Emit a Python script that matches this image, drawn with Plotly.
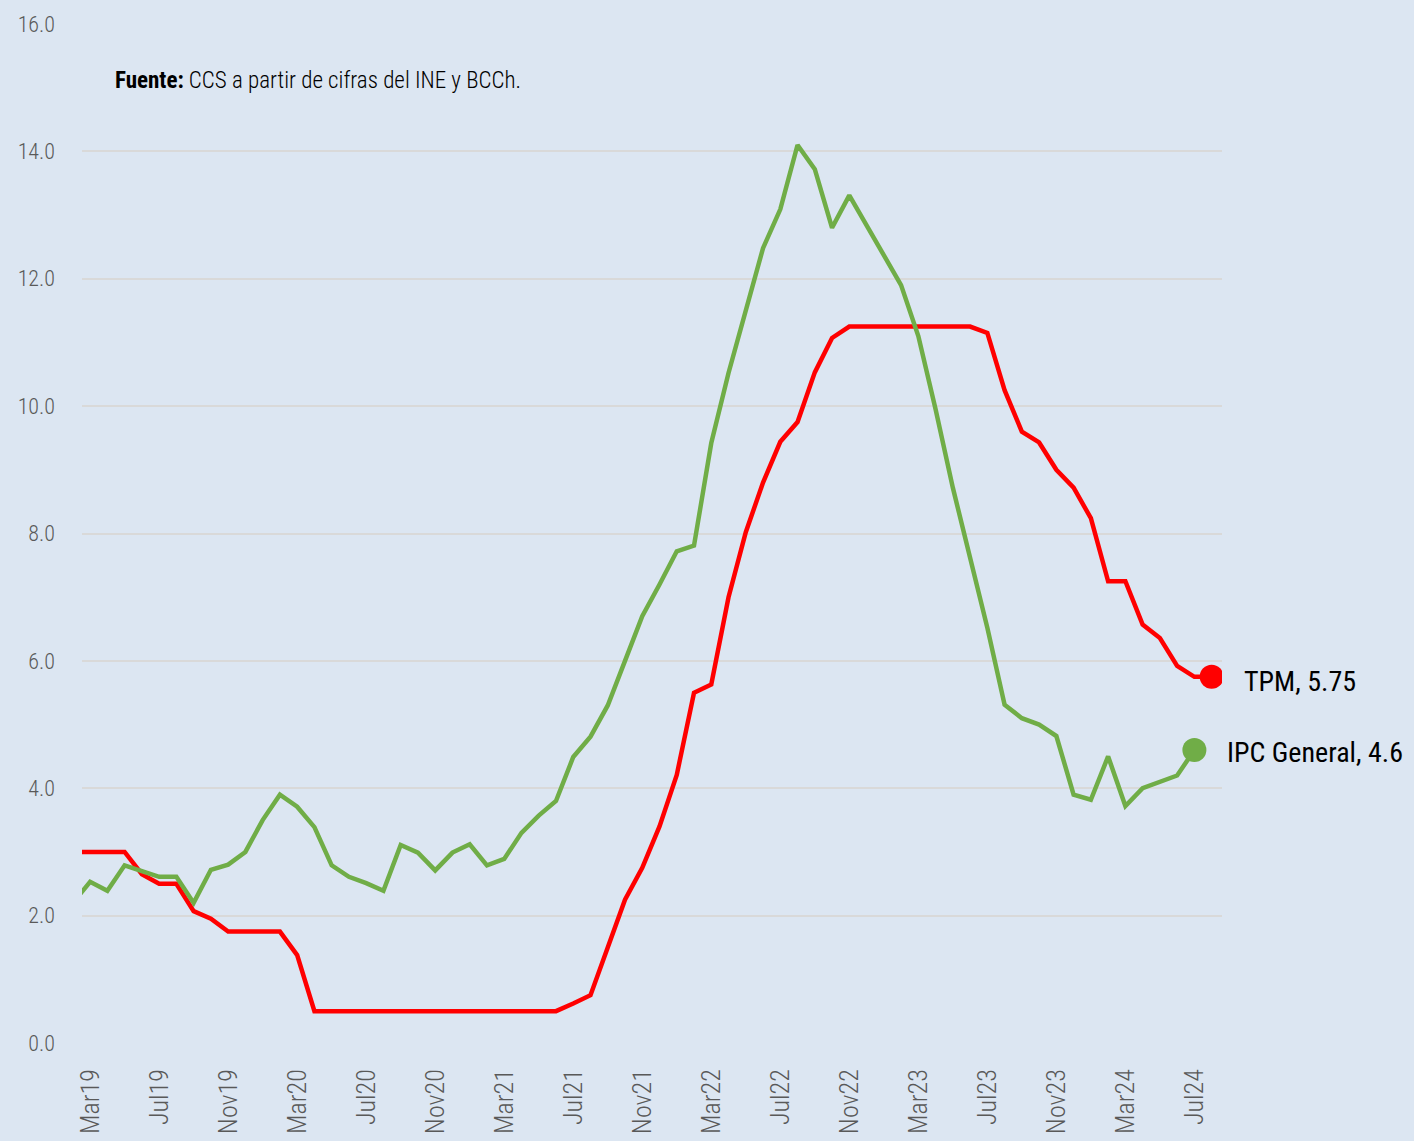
import plotly.graph_objects as go

# meses Feb19 .. Ago24 (el primer mes queda recortado a la izquierda, como en el original)
meses_abr = ["Jan", "Feb", "Mar", "Apr", "May", "Jun", "Jul", "Aug", "Sep", "Oct", "Nov", "Dec"]
meses_tick = ["Mar", "Jul", "Nov"]

fechas = []
for anio in range(19, 25):
    for m in range(12):
        if (anio == 19 and m < 1) or (anio == 24 and m > 7):
            continue
        fechas.append(meses_abr[m] + str(anio))

# Tasa de politica monetaria (promedio mensual), Feb19 .. Ago24
tpm = [3.0, 3.0, 3.0, 3.0, 2.65, 2.5, 2.5, 2.07, 1.95, 1.75, 1.75,
       1.75, 1.75, 1.38, 0.5, 0.5, 0.5, 0.5, 0.5, 0.5, 0.5, 0.5, 0.5,
       0.5, 0.5, 0.5, 0.5, 0.5, 0.5, 0.62, 0.75, 1.5, 2.25, 2.75, 3.4,
       4.21, 5.5, 5.63, 7.0, 8.02, 8.8, 9.44, 9.75, 10.53, 11.07, 11.25, 11.25,
       11.25, 11.25, 11.25, 11.25, 11.25, 11.25, 11.15, 10.25, 9.6, 9.43, 9.0, 8.72,
       8.24, 7.25, 7.25, 6.57, 6.36, 5.92, 5.75, 5.75]

# IPC general, variacion 12 meses, Feb19 .. Jul24
ipc = [2.2, 2.53, 2.39, 2.79, 2.7, 2.61, 2.61, 2.2, 2.72, 2.8, 3.0,
       3.5, 3.9, 3.71, 3.39, 2.79, 2.61, 2.51, 2.39, 3.11, 2.99, 2.71, 2.99,
       3.12, 2.79, 2.89, 3.3, 3.57, 3.8, 4.49, 4.81, 5.3, 6.0, 6.7, 7.2,
       7.72, 7.81, 9.42, 10.52, 11.5, 12.48, 13.09, 14.1, 13.72, 12.8, 13.31, 12.85,
       12.38, 11.9, 11.1, 9.95, 8.72, 7.59, 6.52, 5.31, 5.1, 5.0, 4.82, 3.9,
       3.82, 4.5, 3.72, 4.0, 4.1, 4.2, 4.6]

ticks_x = [f for f in fechas if f[:3] in meses_tick]

ROJO = "#FF0000"
VERDE = "#70AD47"
FUENTE = "Roboto Condensed, Open Sans Condensed, Liberation Sans Narrow, Roboto, sans-serif"

fig = go.Figure()
fig.add_trace(go.Scatter(x=fechas[:len(tpm)], y=tpm, mode="lines",
                         line=dict(color=ROJO, width=4.5), showlegend=False))
fig.add_trace(go.Scatter(x=fechas[:len(ipc)], y=ipc, mode="lines",
                         line=dict(color=VERDE, width=4.5), showlegend=False))
fig.add_trace(go.Scatter(x=[fechas[len(tpm) - 1]], y=[tpm[-1]], mode="markers",
                         marker=dict(color=ROJO, size=24), showlegend=False))
fig.add_trace(go.Scatter(x=[fechas[len(ipc) - 1]], y=[ipc[-1]], mode="markers",
                         marker=dict(color=VERDE, size=24), showlegend=False))

fig.add_annotation(x=fechas[len(tpm) - 1], y=tpm[-1], text=f"TPM, {tpm[-1]}",
                   showarrow=False, xanchor="left", xshift=30, yshift=-5,
                   font=dict(family=FUENTE, size=28, color="black"))
fig.add_annotation(x=fechas[len(ipc) - 1], y=ipc[-1], text=f"IPC General, {ipc[-1]}",
                   showarrow=False, xanchor="left", xshift=31, yshift=-2,
                   font=dict(family=FUENTE, size=28, color="black"))
fig.add_annotation(xref="paper", yref="paper", x=0.027, y=0.945,
                   text="<b>Fuente:</b> CCS a partir de cifras del INE y BCCh.",
                   showarrow=False, xanchor="left", yanchor="middle",
                   font=dict(family=FUENTE, size=23, color="black", weight=300))

fig.update_layout(
    width=1414, height=1141,
    margin=dict(l=82, r=192, t=24, b=98),
    paper_bgcolor="#DCE6F2", plot_bgcolor="#DCE6F2",
    font=dict(family=FUENTE, color="#595959"),
    xaxis=dict(type="category", categoryorder="array", categoryarray=fechas,
               range=[0.53, 66.6], tickmode="array", tickvals=ticks_x,
               tickangle=-90, showgrid=False, showline=False, zeroline=False,
               ticks="", ticklabelstandoff=20, automargin=False,
               tickfont=dict(size=26, color="#595959", weight=300)),
    yaxis=dict(range=[0, 16], dtick=2, tickformat=".1f",
               gridcolor="#D9D9D9", gridwidth=2, zeroline=False, showline=False,
               ticks="", ticklabelstandoff=26, automargin=False,
               tickfont=dict(size=22, color="#595959", weight=300)),
)

fig.write_html("out.html", config={"displayModeBar": False},
               post_script="document.body.style.margin='0';")
